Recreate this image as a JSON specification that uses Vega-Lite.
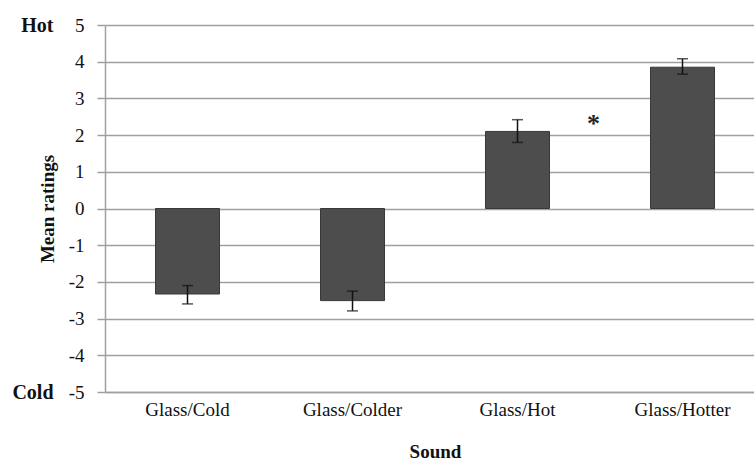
{
  "$schema": "https://vega.github.io/schema/vega-lite/v6.json",
  "autosize": {"type": "none"},
  "width": 649,
  "height": 367,
  "padding": {"left": 105, "top": 25, "right": 0, "bottom": 73},
  "background": "white",
  "config": {
    "font": "Liberation Serif",
    "view": {"stroke": null}
  },
  "datasets": {
    "bars": [
      {"sound": "Glass/Cold", "mean": -2.33, "lo": -2.6, "hi": -2.1},
      {"sound": "Glass/Colder", "mean": -2.51, "lo": -2.79, "hi": -2.25},
      {"sound": "Glass/Hot", "mean": 2.1, "lo": 1.8, "hi": 2.42},
      {"sound": "Glass/Hotter", "mean": 3.85, "lo": 3.66, "hi": 4.08}
    ],
    "star": [
      {"sound": "Glass/Hot", "y": 2.45, "label": "*"}
    ]
  },
  "resolve": {"axis": {"y": "independent"}},
  "layer": [
    {
      "data": {"name": "bars"},
      "mark": {"type": "bar", "fill": "#4d4d4d", "stroke": "#383838", "strokeWidth": 1, "width": 64},
      "encoding": {
        "x": {
          "field": "sound", "type": "nominal", "sort": null,
          "scale": {"range": [0, 660], "paddingInner": 0.61, "paddingOuter": 0.305},
          "axis": {
            "title": "Sound", "titleFontWeight": "bold", "titleFontSize": 19, "titleColor": "#111",
            "titlePadding": 23,
            "labelAngle": 0, "labelFontSize": 19, "labelColor": "#111", "labelPadding": 8,
            "ticks": false, "domainColor": "#a0a0a0", "domainWidth": 1.5
          }
        },
        "y": {
          "field": "mean", "type": "quantitative",
          "scale": {"domain": [-5, 5], "nice": false, "zero": false},
          "axis": {
            "title": "Mean ratings", "titleFontWeight": "bold", "titleFontSize": 19, "titleColor": "#111",
            "titlePadding": 11,
            "values": [-5, -4, -3, -2, -1, 0, 1, 2, 3, 4, 5],
            "labelExpr": "'' + datum.value",
            "labelFontSize": 19, "labelColor": "#111", "labelPadding": 13,
            "tickSize": 8, "tickColor": "#a0a0a0", "tickWidth": 1.5,
            "domainColor": "#a0a0a0", "domainWidth": 1.5,
            "grid": true, "gridColor": "#a0a0a0", "gridWidth": 1.5
          }
        }
      }
    },
    {
      "data": {"name": "bars"},
      "mark": {"type": "rule", "color": "#111", "strokeWidth": 1.5},
      "encoding": {
        "x": {"field": "sound", "type": "nominal", "sort": null},
        "y": {"field": "lo", "type": "quantitative", "axis": null},
        "y2": {"field": "hi"}
      }
    },
    {
      "data": {"name": "bars"},
      "mark": {"type": "tick", "color": "#111", "thickness": 1.5, "size": 11},
      "encoding": {
        "x": {"field": "sound", "type": "nominal", "sort": null},
        "y": {"field": "lo", "type": "quantitative", "axis": null}
      }
    },
    {
      "data": {"name": "bars"},
      "mark": {"type": "tick", "color": "#111", "thickness": 1.5, "size": 11},
      "encoding": {
        "x": {"field": "sound", "type": "nominal", "sort": null},
        "y": {"field": "hi", "type": "quantitative", "axis": null}
      }
    },
    {
      "data": {"name": "star"},
      "mark": {"type": "text", "fontSize": 26, "fontWeight": "bold", "color": "#222", "dx": 76, "baseline": "middle", "dy": 5},
      "encoding": {
        "x": {"field": "sound", "type": "nominal", "sort": null},
        "y": {
          "field": "y", "type": "quantitative",
          "axis": {
            "orient": "left", "title": null, "values": [-5, 5],
            "labelExpr": "datum.value == 5 ? 'Hot' : 'Cold'",
            "labelFontWeight": "bold", "labelFontSize": 20, "labelColor": "#111",
            "ticks": false, "domain": false, "grid": false, "labelPadding": 0,
            "offset": 52
          }
        },
        "text": {"field": "label"}
      }
    }
  ]
}
